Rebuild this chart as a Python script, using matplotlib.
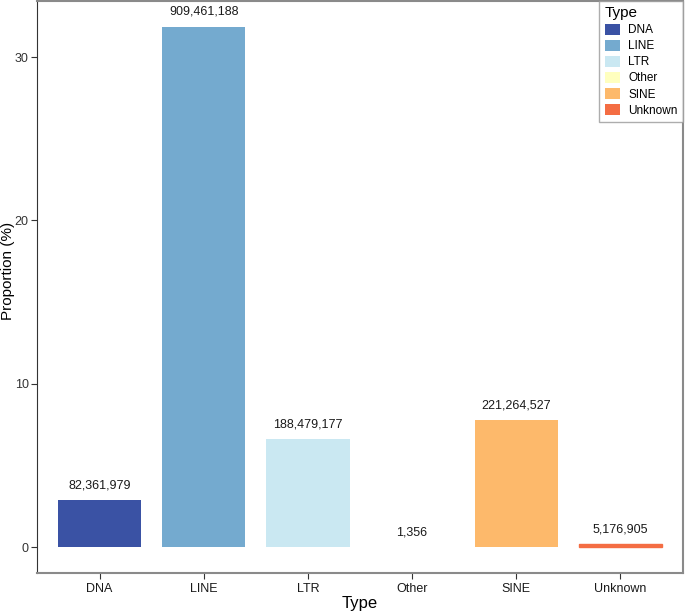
import matplotlib
matplotlib.use("Agg")
from matplotlib import pyplot as plt
from matplotlib.patches import Patch

# Data
types = ['DNA', 'LINE', 'LTR', 'Other', 'SINE', 'Unknown']
proportion = [2.88, 31.84, 6.60, 0.00005, 7.75, 0.18]
counts = ['82,361,979', '909,461,188', '188,479,177', '1,356', '221,264,527', '5,176,905']
colors = ['#3A52A4', '#74AACF', '#CAE8F2', '#FFFFBF', '#FDB96B', '#F46D43']

plt.rcParams['font.family'] = ['Liberation Sans', 'DejaVu Sans']

fig = plt.figure(figsize=(6.85, 6.11), dpi=100)
ax = fig.add_axes([37 / 685, 38 / 611, 646 / 685, 572 / 611])

x = list(range(len(types)))
ax.bar(x, proportion, width=0.8, color=colors, edgecolor='none', zorder=2)
ax.bar([5], [proportion[5]], width=0.8, color='none', edgecolor=colors[5], lw=1.0, zorder=3)

for xi, v, c in zip(x, proportion, counts):
    ax.text(xi, v + 0.55, c, ha='center', va='bottom', fontsize=9, color='#1a1a1a')

ax.set_xlim(-0.6, 5.6)
ax.set_ylim(-1.59, 33.43)
ax.set_xticks(x)
ax.set_xticklabels(types)
ax.set_yticks([0, 10, 20, 30])
ax.tick_params(axis='both', labelsize=9, colors='#333333', length=4, width=0.8, pad=2)
ax.tick_params(axis='x', labelcolor='#1a1a1a', pad=3)
ax.tick_params(axis='y', labelcolor='#333333')

ax.spines['left'].set_color('#333333')
ax.spines['left'].set_linewidth(0.8)
for side in ['top', 'right', 'bottom']:
    ax.spines[side].set_color('#8a8a8a')
    ax.spines[side].set_linewidth(1.5)

ax.set_xlabel('Type', fontsize=12, labelpad=1)
ax.set_ylabel('Proportion (%)', fontsize=11)
ax.yaxis.set_label_coords(-22 / 646, 0.528)

handles = [Patch(facecolor=c, edgecolor='none') for c in colors]
leg = ax.legend(handles, types, title='Type', loc='upper right',
                bbox_to_anchor=(1.0, 1.0), fontsize=8.5, title_fontsize=11,
                frameon=True, fancybox=False, handlelength=1.3, handleheight=1.05,
                handletextpad=0.7, labelspacing=0.3, borderpad=0.45, borderaxespad=0.0)
leg._legend_box.align = 'left'
leg.get_frame().set_edgecolor('#999999')
leg.get_frame().set_linewidth(1.0)

plt.savefig('out.png', dpi=100)
